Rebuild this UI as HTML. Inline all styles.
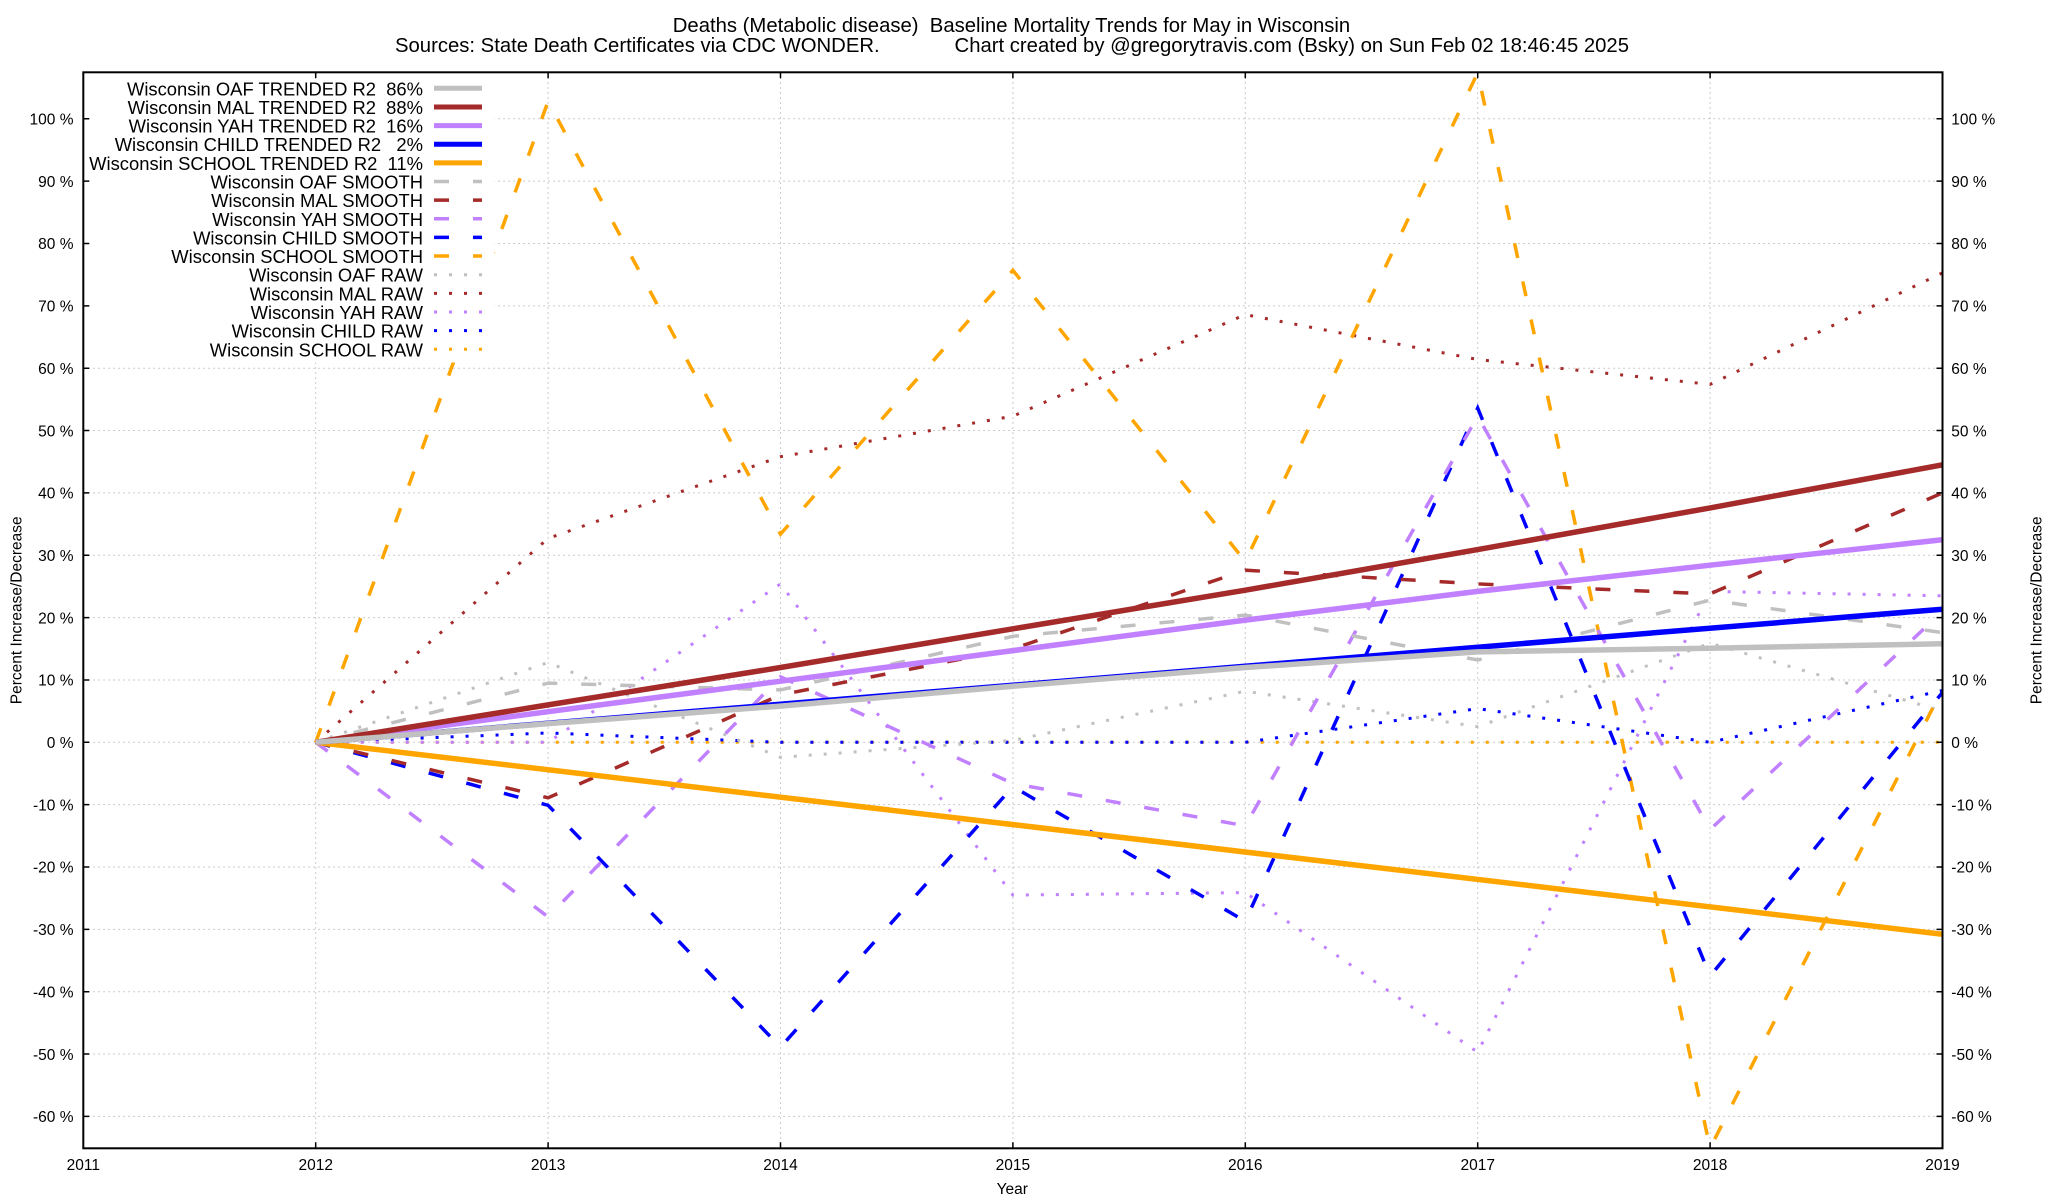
<!DOCTYPE html>
<html>
<head>
<meta charset="utf-8">
<style>
  html, body { margin: 0; padding: 0; background: #ffffff; }
  svg { display: block; }
  text { font-family: "Liberation Sans", Arial, sans-serif; fill: #000; white-space: pre; }
</style>
</head>
<body>
<svg width="2048" height="1200" viewBox="0 0 2048 1200" xmlns="http://www.w3.org/2000/svg">
  <rect x="0" y="0" width="2048" height="1200" fill="#ffffff"/>
  <defs>
    <clipPath id="plot">
      <rect x="83.3" y="72.3" width="1859.2" height="1076"/>
    </clipPath>
  </defs>

  <!-- Titles -->
  <text x="1011.5" y="32" font-size="20.3" text-anchor="middle">Deaths (Metabolic disease)  Baseline Mortality Trends for May in Wisconsin</text>
  <text x="395" y="52" font-size="20.3">Sources: State Death Certificates via CDC WONDER.</text>
  <text x="1629" y="52" font-size="20.3" text-anchor="end">Chart created by @gregorytravis.com (Bsky) on Sun Feb 02 18:46:45 2025</text>

  <!-- Grid -->
  <g stroke="#bbbbbb" stroke-width="1" stroke-dasharray="1.5 3.5" fill="none">
    <line x1="83.3" y1="118.8" x2="1942.5" y2="118.8"/>
    <line x1="83.3" y1="181.15" x2="1942.5" y2="181.15"/>
    <line x1="83.3" y1="243.5" x2="1942.5" y2="243.5"/>
    <line x1="83.3" y1="305.85" x2="1942.5" y2="305.85"/>
    <line x1="83.3" y1="368.2" x2="1942.5" y2="368.2"/>
    <line x1="83.3" y1="430.55" x2="1942.5" y2="430.55"/>
    <line x1="83.3" y1="492.9" x2="1942.5" y2="492.9"/>
    <line x1="83.3" y1="555.25" x2="1942.5" y2="555.25"/>
    <line x1="83.3" y1="617.6" x2="1942.5" y2="617.6"/>
    <line x1="83.3" y1="679.95" x2="1942.5" y2="679.95"/>
    <line x1="83.3" y1="742.3" x2="1942.5" y2="742.3"/>
    <line x1="83.3" y1="804.65" x2="1942.5" y2="804.65"/>
    <line x1="83.3" y1="867" x2="1942.5" y2="867"/>
    <line x1="83.3" y1="929.35" x2="1942.5" y2="929.35"/>
    <line x1="83.3" y1="991.7" x2="1942.5" y2="991.7"/>
    <line x1="83.3" y1="1054.05" x2="1942.5" y2="1054.05"/>
    <line x1="83.3" y1="1116.4" x2="1942.5" y2="1116.4"/>
    <line x1="315.7" y1="72.3" x2="315.7" y2="1148.3"/>
    <line x1="548.1" y1="72.3" x2="548.1" y2="1148.3"/>
    <line x1="780.5" y1="72.3" x2="780.5" y2="1148.3"/>
    <line x1="1012.9" y1="72.3" x2="1012.9" y2="1148.3"/>
    <line x1="1245.3" y1="72.3" x2="1245.3" y2="1148.3"/>
    <line x1="1477.7" y1="72.3" x2="1477.7" y2="1148.3"/>
    <line x1="1710.1" y1="72.3" x2="1710.1" y2="1148.3"/>
  </g>

  <g clip-path="url(#plot)" fill="none" stroke-linejoin="miter">
    <!-- RAW (dotted) -->
    <g stroke-width="3" stroke-dasharray="3 12">
      <polyline stroke="#ffa500" points="315.7,742.3 1942.5,742.3"/>
      <polyline stroke="#0000ff" points="315.7,742.3 548.1,733.0 780.5,742.3 1012.9,742.3 1245.3,742.3 1477.7,708.6 1710.1,742.3 1942.5,690.5"/>
      <polyline stroke="#c080ff" points="315.7,742.3 548.1,742.3 780.5,583.9 1012.9,895.1 1245.3,892.6 1477.7,1052.2 1710.1,591.4 1942.5,595.8"/>
      <polyline stroke="#a52a2a" points="315.7,742.3 548.1,538.4 780.5,456.7 1012.9,416.2 1245.3,314.6 1477.7,359.5 1710.1,384.4 1942.5,272.8"/>
      <polyline stroke="#c0c0c0" points="315.7,742.3 548.1,662.5 780.5,757.3 1012.9,740.4 1245.3,691.2 1477.7,726.7 1710.1,643.2 1942.5,711.1"/>
    </g>
    <!-- SMOOTH (dashed) -->
    <g stroke-width="3.5" stroke-dasharray="15 24">
      <polyline stroke="#ffa500" points="315.7,742.3 548.1,101.3 780.5,534.1 1012.9,270.3 1245.3,561.5 1477.7,72.7 1710.1,1148.2 1942.5,688.7"/>
      <polyline stroke="#0000ff" points="315.7,742.3 548.1,805.3 780.5,1047.2 1012.9,786.6 1245.3,921.2 1477.7,408.1 1710.1,976.1 1942.5,692.4"/>
      <polyline stroke="#c080ff" points="315.7,742.3 548.1,916.9 780.5,676.8 1012.9,783.5 1245.3,825.8 1477.7,416.2 1710.1,829.6 1942.5,611.4"/>
      <polyline stroke="#a52a2a" points="315.7,742.3 548.1,797.8 780.5,694.9 1012.9,648.8 1245.3,570.2 1477.7,583.9 1710.1,593.9 1942.5,492.9"/>
      <polyline stroke="#c0c0c0" points="315.7,742.3 548.1,683.1 780.5,689.9 1012.9,636.3 1245.3,615.1 1477.7,660.0 1710.1,600.1 1942.5,632.6"/>
    </g>
    <!-- TRENDED (solid thick) -->
    <g stroke-width="5.5">
      <polyline stroke="#ffa500" points="315.7,742.3 1942.5,934.3"/>
      <polyline stroke="#0000ff" points="315.7,742.3 1942.5,609.2"/>
      <polyline stroke="#c080ff" points="315.7,742.3 548.1,711.7 780.5,681.2 1012.9,650.6 1245.3,620.1 1477.7,591.4 1710.1,565.2 1942.5,539.7"/>
      <polyline stroke="#a52a2a" points="315.7,742.3 548.1,704.9 780.5,667.5 1012.9,628.8 1245.3,590.2 1477.7,549.6 1710.1,507.9 1942.5,464.8"/>
      <polyline stroke="#c0c0c0" points="315.7,742.3 548.1,723.6 780.5,706.1 1012.9,686.2 1245.3,667.5 1477.7,651.9 1710.1,648.2 1942.5,643.8"/>
    </g>
  </g>

  <!-- Legend (opaque) -->
  <rect x="84.5" y="73.5" width="410" height="289" fill="#ffffff"/>
  <g font-size="18.4" text-anchor="end">
    <text x="423" y="95.3">Wisconsin OAF TRENDED R2  86%</text>
    <text x="423" y="113.94">Wisconsin MAL TRENDED R2  88%</text>
    <text x="423" y="132.58">Wisconsin YAH TRENDED R2  16%</text>
    <text x="423" y="151.22">Wisconsin CHILD TRENDED R2   2%</text>
    <text x="423" y="169.86">Wisconsin SCHOOL TRENDED R2  11%</text>
    <text x="423" y="188.5">Wisconsin OAF SMOOTH</text>
    <text x="423" y="207.14">Wisconsin MAL SMOOTH</text>
    <text x="423" y="225.78">Wisconsin YAH SMOOTH</text>
    <text x="423" y="244.42">Wisconsin CHILD SMOOTH</text>
    <text x="423" y="263.06">Wisconsin SCHOOL SMOOTH</text>
    <text x="423" y="281.7">Wisconsin OAF RAW</text>
    <text x="423" y="300.34">Wisconsin MAL RAW</text>
    <text x="423" y="318.98">Wisconsin YAH RAW</text>
    <text x="423" y="337.62">Wisconsin CHILD RAW</text>
    <text x="423" y="356.26">Wisconsin SCHOOL RAW</text>
  </g>
  <g fill="none">
    <g stroke-width="5">
      <line x1="434" y1="88.3" x2="482" y2="88.3" stroke="#c0c0c0"/>
      <line x1="434" y1="106.94" x2="482" y2="106.94" stroke="#a52a2a"/>
      <line x1="434" y1="125.58" x2="482" y2="125.58" stroke="#c080ff"/>
      <line x1="434" y1="144.22" x2="482" y2="144.22" stroke="#0000ff"/>
      <line x1="434" y1="162.86" x2="482" y2="162.86" stroke="#ffa500"/>
    </g>
    <g stroke-width="3.5" stroke-dasharray="15 24">
      <line x1="434" y1="181.5" x2="482" y2="181.5" stroke="#c0c0c0"/>
      <line x1="434" y1="200.14" x2="482" y2="200.14" stroke="#a52a2a"/>
      <line x1="434" y1="218.78" x2="482" y2="218.78" stroke="#c080ff"/>
      <line x1="434" y1="237.42" x2="482" y2="237.42" stroke="#0000ff"/>
      <line x1="434" y1="256.06" x2="482" y2="256.06" stroke="#ffa500"/>
    </g>
    <g stroke-width="3" stroke-dasharray="3 12">
      <line x1="434" y1="274.7" x2="484" y2="274.7" stroke="#c0c0c0"/>
      <line x1="434" y1="293.34" x2="484" y2="293.34" stroke="#a52a2a"/>
      <line x1="434" y1="311.98" x2="484" y2="311.98" stroke="#c080ff"/>
      <line x1="434" y1="330.62" x2="484" y2="330.62" stroke="#0000ff"/>
      <line x1="434" y1="349.26" x2="484" y2="349.26" stroke="#ffa500"/>
    </g>
  </g>

  <!-- Border -->
  <rect x="83.3" y="72.3" width="1859.2" height="1076" fill="none" stroke="#000" stroke-width="2"/>

  <!-- Ticks -->
  <g stroke="#000" stroke-width="1.5">
    <!-- left/right y ticks -->
    <path d="M83.3 118.8h6M83.3 181.15h6M83.3 243.5h6M83.3 305.85h6M83.3 368.2h6M83.3 430.55h6M83.3 492.9h6M83.3 555.25h6M83.3 617.6h6M83.3 679.95h6M83.3 742.3h6M83.3 804.65h6M83.3 867h6M83.3 929.35h6M83.3 991.7h6M83.3 1054.05h6M83.3 1116.4h6"/>
    <path d="M1942.5 118.8h-6M1942.5 181.15h-6M1942.5 243.5h-6M1942.5 305.85h-6M1942.5 368.2h-6M1942.5 430.55h-6M1942.5 492.9h-6M1942.5 555.25h-6M1942.5 617.6h-6M1942.5 679.95h-6M1942.5 742.3h-6M1942.5 804.65h-6M1942.5 867h-6M1942.5 929.35h-6M1942.5 991.7h-6M1942.5 1054.05h-6M1942.5 1116.4h-6"/>
    <!-- bottom/top x ticks -->
    <path d="M315.7 1148.3v-6M548.1 1148.3v-6M780.5 1148.3v-6M1012.9 1148.3v-6M1245.3 1148.3v-6M1477.7 1148.3v-6M1710.1 1148.3v-6"/>
    <path d="M315.7 72.3v6M548.1 72.3v6M780.5 72.3v6M1012.9 72.3v6M1245.3 72.3v6M1477.7 72.3v6M1710.1 72.3v6"/>
  </g>

  <!-- Left y tick labels -->
  <g font-size="15.5" text-anchor="end">
    <text x="73.5" y="124.5">100 %</text>
    <text x="73.5" y="186.85">90 %</text>
    <text x="73.5" y="249.2">80 %</text>
    <text x="73.5" y="311.55">70 %</text>
    <text x="73.5" y="373.9">60 %</text>
    <text x="73.5" y="436.25">50 %</text>
    <text x="73.5" y="498.6">40 %</text>
    <text x="73.5" y="560.95">30 %</text>
    <text x="73.5" y="623.3">20 %</text>
    <text x="73.5" y="685.65">10 %</text>
    <text x="73.5" y="748">0 %</text>
    <text x="73.5" y="810.35">-10 %</text>
    <text x="73.5" y="872.7">-20 %</text>
    <text x="73.5" y="935.05">-30 %</text>
    <text x="73.5" y="997.4">-40 %</text>
    <text x="73.5" y="1059.75">-50 %</text>
    <text x="73.5" y="1122.1">-60 %</text>
  </g>
  <!-- Right y tick labels -->
  <g font-size="15.5" text-anchor="start">
    <text x="1951.3" y="124.5">100 %</text>
    <text x="1951.3" y="186.85">90 %</text>
    <text x="1951.3" y="249.2">80 %</text>
    <text x="1951.3" y="311.55">70 %</text>
    <text x="1951.3" y="373.9">60 %</text>
    <text x="1951.3" y="436.25">50 %</text>
    <text x="1951.3" y="498.6">40 %</text>
    <text x="1951.3" y="560.95">30 %</text>
    <text x="1951.3" y="623.3">20 %</text>
    <text x="1951.3" y="685.65">10 %</text>
    <text x="1951.3" y="748">0 %</text>
    <text x="1951.3" y="810.35">-10 %</text>
    <text x="1951.3" y="872.7">-20 %</text>
    <text x="1951.3" y="935.05">-30 %</text>
    <text x="1951.3" y="997.4">-40 %</text>
    <text x="1951.3" y="1059.75">-50 %</text>
    <text x="1951.3" y="1122.1">-60 %</text>
  </g>

  <!-- X tick labels -->
  <g font-size="15.5" text-anchor="middle">
    <text x="83.3" y="1170">2011</text>
    <text x="315.7" y="1170">2012</text>
    <text x="548.1" y="1170">2013</text>
    <text x="780.5" y="1170">2014</text>
    <text x="1012.9" y="1170">2015</text>
    <text x="1245.3" y="1170">2016</text>
    <text x="1477.7" y="1170">2017</text>
    <text x="1710.1" y="1170">2018</text>
    <text x="1942.5" y="1170">2019</text>
  </g>

  <!-- Axis labels -->
  <text x="1012.3" y="1194" font-size="15.5" text-anchor="middle">Year</text>
  <text transform="translate(21.5,610.3) rotate(-90)" font-size="15.5" text-anchor="middle">Percent Increase/Decrease</text>
  <text transform="translate(2041.5,610.3) rotate(-90)" font-size="15.5" text-anchor="middle">Percent Increase/Decrease</text>
</svg>
</body>
</html>
